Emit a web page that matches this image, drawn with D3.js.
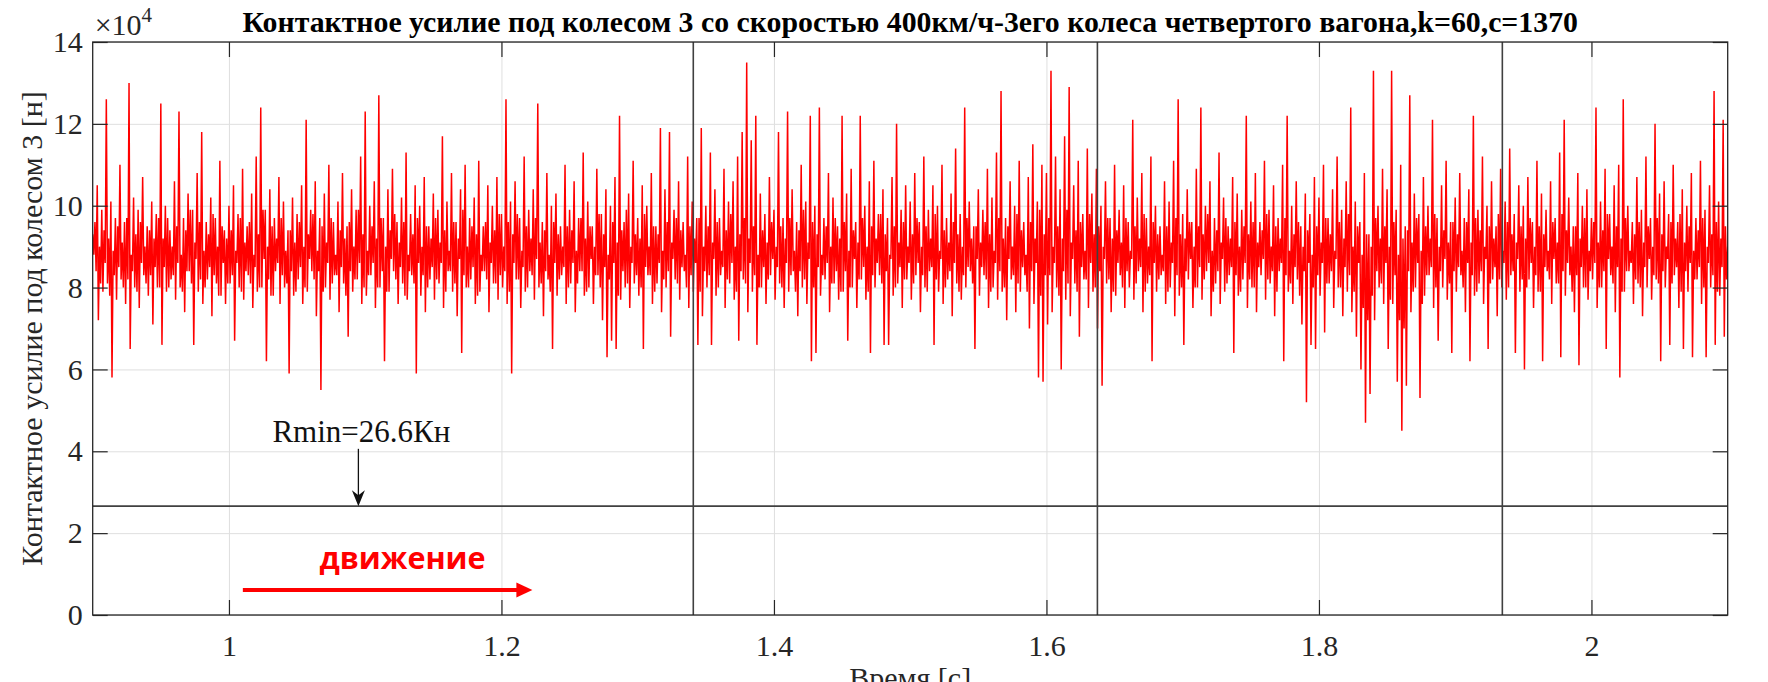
<!DOCTYPE html>
<html>
<head>
<meta charset="utf-8">
<script src="https://cdn.jsdelivr.net/npm/d3@7/dist/d3.min.js"></script>
<style>
  body { margin: 0; background: #ffffff; }
  svg { display: block; }
  text { font-family: "Liberation Serif", "Times New Roman", serif; }
</style>
</head>
<body>
<svg id="chart" width="1768" height="682"></svg>
<script>
// Contact force under wheel 3, sampled at 1200 Hz from t = 0.9 s, in kN
const startTime = 0.9;
const sampleRate = 1200;
const forceKN = [
  93,88,96,84,105,72,90,81,99,79,94,86,126,81,92,78,101,58,89,83,97,77,95,85,110,82,91,80,96,76,97,82,130,65,88,84,102,80,93,79,99,75,96,86,107,83,90,81,95,78,94,83,101,71,92,85,98,80,97,80,
  125,66,92,85,100,79,97,80,94,82,90,83,106,77,95,86,123,80,88,79,97,74,94,84,103,84,99,81,99,66,91,87,108,79,96,82,118,76,89,80,96,82,93,85,102,73,98,83,97,81,90,78,111,78,95,86,94,76,92,81,
  100,81,94,83,105,67,89,86,98,80,97,79,109,77,91,84,95,83,96,81,103,75,88,85,112,79,93,80,124,80,99,87,99,62,90,82,104,78,95,78,97,84,92,86,107,76,97,83,101,80,89,81,94,59,94,84,102,78,91,79,
  98,82,96,85,105,76,90,80,121,79,93,87,99,84,98,82,106,73,89,84,97,55,95,79,103,80,91,86,110,77,97,81,96,83,88,83,101,74,94,85,108,81,92,78,95,68,96,84,104,79,90,82,99,82,99,86,112,76,93,80,
  123,78,89,83,100,83,95,86,106,75,92,80,127,80,97,84,97,62,90,79,104,79,94,87,109,84,98,82,96,76,91,85,102,81,96,78,113,77,88,84,98,83,93,81,105,59,97,86,100,78,90,83,107,74,95,80,95,82,92,85,
  103,77,97,82,99,81,91,86,117,75,94,79,101,84,89,84,108,79,96,81,96,73,92,87,104,64,99,83,110,80,90,80,97,82,95,85,102,76,93,78,111,79,88,84,95,84,96,82,105,74,91,86,100,81,94,81,107,77,98,83,
  98,80,90,84,126,76,96,79,101,59,93,86,106,82,98,82,97,75,89,85,112,79,95,80,99,84,92,83,104,77,97,87,125,80,91,81,96,73,94,84,108,82,88,79,100,65,96,86,103,78,93,82,95,83,90,85,110,76,95,80,
  99,81,94,86,106,74,89,81,97,84,97,84,113,78,92,79,101,80,95,87,95,76,90,83,109,83,98,80,98,72,93,85,104,63,88,82,100,67,96,86,107,65,91,78,122,77,94,84,96,80,99,81,103,75,90,86,111,81,93,83,
  97,78,92,80,105,65,98,85,100,83,90,83,108,76,95,79,95,81,93,86,119,74,89,82,104,80,96,84,118,68,91,87,99,82,97,81,106,77,94,85,96,84,88,80,112,75,95,83,101,79,92,86,97,66,97,79,119,73,90,84,
  100,80,95,83,113,66,91,87,104,78,96,80,97,83,89,85,109,75,94,82,101,81,98,86,106,77,90,79,112,67,93,84,118,82,97,81,135,74,92,86,116,79,95,83,122,66,88,80,103,80,94,85,98,76,91,82,107,83,96,87,
  99,77,90,85,118,81,95,80,97,75,92,86,123,79,97,83,104,84,89,79,96,73,94,84,110,80,99,82,101,76,91,87,122,62,96,80,100,64,93,85,124,78,88,83,97,82,95,86,108,74,90,81,102,81,97,84,95,77,92,79,
  122,79,96,84,103,67,89,80,109,80,94,87,96,75,91,82,122,82,97,85,100,77,90,79,106,64,95,83,111,80,92,86,98,83,98,81,104,66,93,84,97,66,88,87,107,78,95,80,120,81,91,85,99,75,96,82,105,82,90,86,
  101,77,93,81,108,83,97,86,96,74,90,83,112,80,95,79,99,84,92,85,105,66,98,82,100,79,89,87,110,76,94,80,97,82,91,84,103,73,96,86,114,81,93,79,98,77,90,83,124,80,97,85,101,84,92,81,95,65,95,87,
  104,78,91,85,99,83,96,82,109,75,93,79,102,80,89,86,113,77,97,84,128,79,92,80,97,72,95,87,106,82,90,83,100,74,98,81,111,79,94,85,96,83,88,79,107,70,96,84,115,76,92,86,101,58,99,78,110,57,93,83,
  108,71,97,83,133,74,90,86,112,80,95,78,104,60,92,84,117,77,99,81,129,73,91,87,105,81,94,79,111,68,96,85,98,82,89,82,114,75,98,86,103,79,93,80,109,70,95,84,100,56,90,87,106,81,97,82,97,74,92,79,
  110,78,94,86,99,83,91,80,105,75,97,84,96,80,89,87,121,77,95,81,102,84,92,85,108,74,98,79,97,81,90,83,112,62,96,86,100,79,93,82,95,83,88,84,106,76,95,79,101,80,91,86,111,73,97,83,126,78,93,80,
  98,66,92,84,104,82,96,87,96,75,90,80,109,80,95,85,124,77,93,82,100,84,98,86,106,73,89,79,97,81,94,84,113,76,91,87,102,79,97,81,95,83,92,85,107,64,96,83,103,78,90,79,99,82,95,86,122,75,93,82,
  101,80,96,80,108,74,91,85,96,83,94,87,111,77,98,82,99,81,90,84,105,73,95,79,97,84,92,86,110,62,97,83,122,79,89,81,100,76,93,85,106,82,96,78,95,71,90,84,103,52,94,86,98,66,88,80,107,65,95,83,
  102,78,91,86,110,69,97,81,97,81,93,84,104,75,89,87,112,80,96,80,99,73,92,85,106,79,98,83,124,74,90,79,101,68,95,86,96,60,88,75,108,47,93,72,93,54,90,78,133,72,97,84,100,80,92,81,109,76,95,86,
  104,65,90,77,133,76,96,83,99,57,88,72,110,45,92,70,95,56,94,84,127,74,91,79,103,80,97,86,98,53,89,76,107,78,95,83,100,83,92,85,121,75,98,80,97,67,90,84,105,80,94,87,111,77,91,81,96,64,96,84,
  102,79,93,85,108,83,89,80,97,74,96,86,104,62,91,83,122,78,97,79,99,81,94,84,112,76,90,87,100,65,95,81,106,82,92,85,95,73,98,82,109,80,89,86,101,77,96,80,114,83,93,84,98,64,91,87,105,79,95,82,
  100,60,92,80,107,82,97,86,96,75,90,83,111,79,95,79,103,62,93,85,99,84,89,82,106,76,96,87,97,81,91,81,113,63,98,84,121,78,94,86,102,83,90,79,95,74,95,83,108,61,92,85,100,80,97,80,104,77,89,84,
  97,82,96,86,124,75,91,80,101,80,94,84,109,65,98,87,98,83,90,81,105,74,95,85,110,58,92,79,126,79,97,84,100,84,89,86,96,76,93,82,107,81,96,80,99,73,91,85,112,80,95,87,97,77,90,83,120,82,97,81,
  103,62,93,84,106,80,90,87,98,66,96,81,110,83,92,85,96,75,98,79,104,65,91,84,100,79,95,86,108,63,89,82,97,82,94,85,111,76,97,80,99,63,90,86,105,80,93,83,128,66,96,79,101,78,92,85,121,68,95,82,
  90
];

// Axis ticks
const xTickValues = [1, 1.2, 1.4, 1.6, 1.8, 2];
const xTickLabels = ["1", "1.2", "1.4", "1.6", "1.8", "2"];
const yTickValues = [0, 20, 40, 60, 80, 100, 120, 140];
const yTickLabels = ["0", "2", "4", "6", "8", "10", "12", "14"];

// Vertical markers (s) and minimum admissible contact force (kN)
const markerTimes = [1.3408, 1.6374, 1.9346];
const rminKN = 26.6;
const rminLabel = "Rmin=26.6Кн";
const rminArrowT = 1.095;
const rminLabelKN = 42.3;
const motionLabel = "движение";
const motionArrow = { t0: 1.0102, t1: 1.2227, kN: 6.1 };

const titleText = "Контактное усилие под колесом 3 со скоростью 400км/ч-3его колеса четвертого вагона,k=60,c=1370";
const yLabelText = "Контактное усилие под колесом 3 [н]";
const xLabelText = "Время [с]";

// Layout
const plot = { left: 92.7, right: 1727.7, top: 42, bottom: 615 };
const axisColor = "#262626";
const gridColor = "#dfdfdf";
const tickLen = 15;
const fontSize = 30;

const svg = d3.select("#chart");

const x = d3.scaleLinear().domain([0.9, 2.1]).range([plot.left, plot.right]);
const y = d3.scaleLinear().domain([0, 140]).range([plot.bottom, plot.top]);

// Grid lines
const grid = svg.append("g").attr("class", "grid");
grid.append("g")
  .attr("transform", `translate(0,${plot.bottom})`)
  .call(d3.axisBottom(x).tickValues(xTickValues).tickSize(-(plot.bottom - plot.top)).tickFormat(""))
  .call(g => g.select(".domain").remove())
  .call(g => g.selectAll("line").attr("stroke", gridColor).attr("stroke-width", 1));
grid.append("g")
  .attr("transform", `translate(${plot.left},0)`)
  .call(d3.axisLeft(y).tickValues(yTickValues).tickSize(-(plot.right - plot.left)).tickFormat(""))
  .call(g => g.select(".domain").remove())
  .call(g => g.selectAll("line").attr("stroke", gridColor).attr("stroke-width", 1));

// Signal
svg.append("clipPath").attr("id", "plotClip")
  .append("rect")
  .attr("x", plot.left).attr("y", plot.top)
  .attr("width", plot.right - plot.left).attr("height", plot.bottom - plot.top);

const line = d3.line()
  .x((d, i) => x(startTime + i / sampleRate))
  .y(d => y(d));

svg.append("path")
  .datum(forceKN)
  .attr("clip-path", "url(#plotClip)")
  .attr("fill", "none")
  .attr("stroke", "#ff0000")
  .attr("stroke-width", 1.5)
  .attr("stroke-linejoin", "bevel")
  .attr("d", line);

// Rmin level and vertical markers
svg.append("line")
  .attr("x1", x(0.9)).attr("x2", x(2.1))
  .attr("y1", y(rminKN)).attr("y2", y(rminKN))
  .attr("stroke", "#404040").attr("stroke-width", 1.6);

svg.selectAll("line.marker")
  .data(markerTimes)
  .join("line")
  .attr("class", "marker")
  .attr("x1", d => x(d)).attr("x2", d => x(d))
  .attr("y1", plot.top).attr("y2", plot.bottom)
  .attr("stroke", "#404040").attr("stroke-width", 1.6);

// Axes (ticks inward on all four sides)
function styleAxis(g) {
  g.select(".domain").remove();
  g.selectAll(".tick line").attr("stroke", axisColor).attr("stroke-width", 1.2);
  g.selectAll(".tick text")
    .attr("fill", axisColor)
    .style("font-family", "'Liberation Serif', 'Times New Roman', serif")
    .style("font-size", fontSize + "px");
}

svg.append("g")
  .attr("transform", `translate(0,${plot.bottom})`)
  .call(d3.axisBottom(x).tickValues(xTickValues).tickSize(-tickLen).tickPadding(20)
    .tickFormat((d, i) => xTickLabels[i]))
  .call(styleAxis);

svg.append("g")
  .attr("transform", `translate(0,${plot.top})`)
  .call(d3.axisTop(x).tickValues(xTickValues).tickSize(-tickLen).tickFormat(""))
  .call(styleAxis);

svg.append("g")
  .attr("transform", `translate(${plot.left},0)`)
  .call(d3.axisLeft(y).tickValues(yTickValues).tickSize(-tickLen).tickPadding(10)
    .tickFormat((d, i) => yTickLabels[i]))
  .call(styleAxis);

svg.append("g")
  .attr("transform", `translate(${plot.right},0)`)
  .call(d3.axisRight(y).tickValues(yTickValues).tickSize(-tickLen).tickFormat(""))
  .call(styleAxis);

// Axes box
svg.append("rect")
  .attr("x", plot.left).attr("y", plot.top)
  .attr("width", plot.right - plot.left).attr("height", plot.bottom - plot.top)
  .attr("fill", "none").attr("stroke", axisColor).attr("stroke-width", 1.3);

// Exponent label
const expo = svg.append("text")
  .attr("x", plot.left + 2).attr("y", 35)
  .attr("fill", axisColor)
  .style("font-size", "30px");
expo.append("tspan").text("×10");
expo.append("tspan").attr("dy", -13).style("font-size", "21px").text("4");

// Title
svg.append("text")
  .attr("x", (plot.left + plot.right) / 2).attr("y", 32)
  .attr("text-anchor", "middle")
  .attr("fill", "#000")
  .style("font-size", "29.8px").style("font-weight", "bold")
  .text(titleText);

// Axis labels
svg.append("text")
  .attr("transform", `translate(42,${(plot.top + plot.bottom) / 2}) rotate(-90)`)
  .attr("text-anchor", "middle")
  .attr("fill", axisColor)
  .style("font-size", fontSize + "px")
  .text(yLabelText);

svg.append("text")
  .attr("x", (plot.left + plot.right) / 2).attr("y", 688)
  .attr("text-anchor", "middle")
  .attr("fill", axisColor)
  .style("font-size", fontSize + "px")
  .text(xLabelText);

// Rmin annotation with arrow
const ax = x(rminArrowT);
svg.append("text")
  .attr("x", ax + 3).attr("y", y(rminLabelKN))
  .attr("text-anchor", "middle")
  .attr("fill", "#111")
  .style("font-size", "31px")
  .text(rminLabel);
const tipY = y(rminKN);
svg.append("line")
  .attr("x1", ax).attr("x2", ax)
  .attr("y1", y(40.6)).attr("y2", tipY - 6)
  .attr("stroke", "#111").attr("stroke-width", 1.3);
svg.append("path")
  .attr("d", `M${ax},${tipY} L${ax - 6.5},${tipY - 16} L${ax},${tipY - 11} L${ax + 6.5},${tipY - 16} Z`)
  .attr("fill", "#111");

// Direction of motion
const mx0 = x(motionArrow.t0), mx1 = x(motionArrow.t1), my = y(motionArrow.kN);
svg.append("line")
  .attr("x1", mx0).attr("x2", mx1 - 14)
  .attr("y1", my).attr("y2", my)
  .attr("stroke", "#ff0000").attr("stroke-width", 4);
svg.append("path")
  .attr("d", `M${mx1},${my} L${mx1 - 16},${my - 7.5} L${mx1 - 16},${my + 7.5} Z`)
  .attr("fill", "#ff0000");
svg.append("text")
  .attr("x", 402.5).attr("y", 569)
  .attr("text-anchor", "middle")
  .attr("fill", "#ff0000")
  .style("font-family", "'Open Sans', 'Noto Sans', sans-serif")
  .style("font-weight", "bold")
  .style("font-size", "30.5px")
  .text(motionLabel);
</script>
</body>
</html>
